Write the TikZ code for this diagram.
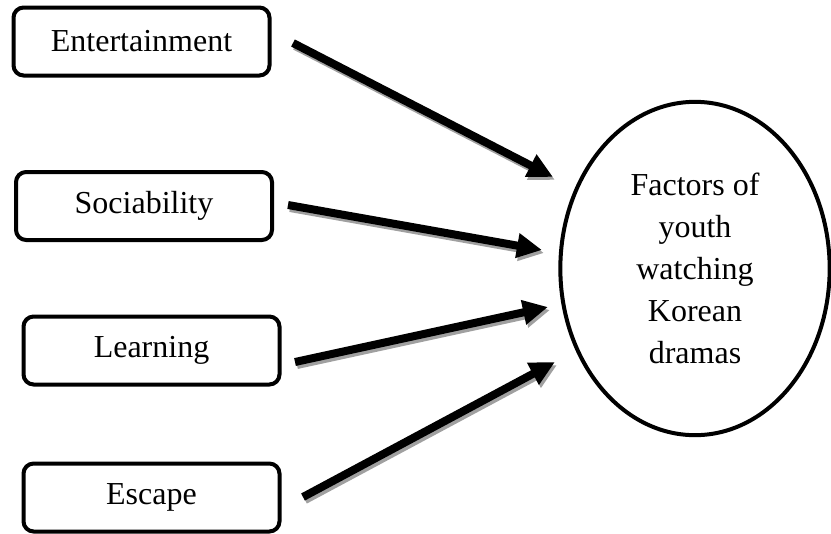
\documentclass[tikz,border=0pt]{standalone}
\usepackage{fontspec}
\setmainfont{Liberation Serif}
\usetikzlibrary{arrows.meta,positioning,shapes.geometric}
\definecolor{kdshadow}{HTML}{A0A0A0}

\begin{document}
\begin{tikzpicture}[
    x=0.375pt, y=-0.375pt,
    factor/.style={rectangle, rounded corners=3.8pt, draw, line width=1.5pt,
                   minimum width=96pt, minimum height=25.5pt, inner sep=0pt,
                   font=\fontsize{12}{14}\selectfont},
    goal/.style={ellipse, draw, line width=1.5pt, minimum width=101pt,
                 minimum height=125pt, inner sep=0pt, align=center,
                 font=\fontsize{12}{15.75}\selectfont},
    arr/.style={-{Triangle[length=9.4pt, width=8.8pt]}, line width=3pt},
    arrshadow/.style={arr, draw=kdshadow, fill=kdshadow,
                      transform canvas={shift={(2,3)}}}
  ]
  \useasboundingbox (0,0) rectangle (831,533);

  % ---- Four factor boxes ----
  \node[factor] (ent) at (141.5,41.5) {Entertainment};
  \node[factor] (soc) at (144,206)    {Sociability};
  \node[factor] (lea) at (151.5,350.5) {Learning};
  \node[factor] (esc) at (151.5,497.5) {Escape};

  % ---- Outcome ellipse ----
  \node[goal] (kdrama) at (695,268.5)
    {Factors of\\youth\\watching\\Korean\\dramas};

  % ---- Arrow end points ----
  \coordinate (ent-s) at (293,43);   \coordinate (ent-t) at (553,177);
  \coordinate (soc-s) at (288,205);  \coordinate (soc-t) at (542,250);
  \coordinate (lea-s) at (295,362);  \coordinate (lea-t) at (548,307);
  \coordinate (esc-s) at (303,497);  \coordinate (esc-t) at (555,362);

  % ---- Arrows with drop shadow ----
  \foreach \n in {ent,soc,lea,esc}{
    \draw[arrshadow] (\n-s) -- (\n-t);
    \draw[arr] (\n-s) -- (\n-t);
  }

\end{tikzpicture}
\end{document}
